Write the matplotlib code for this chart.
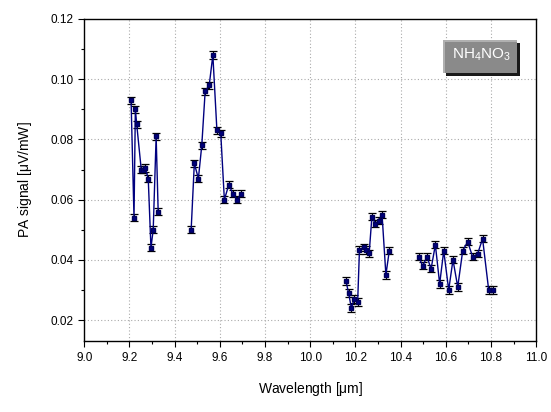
import matplotlib
matplotlib.use("Agg")
import matplotlib.pyplot as plt
from matplotlib.patches import Rectangle
from matplotlib.ticker import MultipleLocator
import numpy as np

plt.rcParams['font.family'] = ['Liberation Sans', 'DejaVu Sans']
plt.rcParams['mathtext.fontset'] = 'custom'
plt.rcParams['mathtext.rm'] = 'Liberation Sans'
plt.rcParams['mathtext.it'] = 'Liberation Sans:italic'

# wavelength [um] and PA signal [uV/mW]
wl1 = [9.207, 9.22, 9.226, 9.232, 9.252, 9.262, 9.27, 9.283, 9.295, 9.305, 9.318, 9.327]
pa1 = [0.093, 0.054, 0.090, 0.085, 0.070, 0.070, 0.0705, 0.067, 0.044, 0.050, 0.081, 0.056]

wl2 = [9.473, 9.487, 9.505, 9.52, 9.535, 9.553, 9.569, 9.587, 9.604, 9.62, 9.64, 9.657, 9.677, 9.694]
pa2 = [0.050, 0.072, 0.067, 0.078, 0.096, 0.098, 0.108, 0.083, 0.082, 0.060, 0.065, 0.062, 0.060, 0.062]

wl3 = [10.158, 10.17, 10.182, 10.195, 10.21, 10.218, 10.236, 10.248, 10.261, 10.273,
       10.288, 10.303, 10.318, 10.335, 10.35]
pa3 = [0.033, 0.029, 0.024, 0.027, 0.026, 0.0433, 0.0442, 0.0433, 0.0422, 0.0543,
       0.052, 0.053, 0.055, 0.035, 0.043]

wl4 = [10.48, 10.498, 10.517, 10.535, 10.554, 10.573, 10.591, 10.613, 10.632, 10.653,
       10.675, 10.697, 10.719, 10.741, 10.763, 10.79, 10.81]
pa4 = [0.041, 0.038, 0.041, 0.037, 0.045, 0.032, 0.043, 0.030, 0.040, 0.031,
       0.043, 0.046, 0.041, 0.042, 0.047, 0.030, 0.030]

err = 0.0012

fig = plt.figure(figsize=(5.51, 4.12), dpi=100)
ax = fig.add_axes([0.153, 0.172, 0.82, 0.782])

for wl, pa in [(wl1, pa1), (wl2, pa2), (wl3, pa3), (wl4, pa4)]:
    ax.errorbar(wl, pa, yerr=err, fmt='s-', color='#00007f', lw=1.0,
                ms=3.3, mfc='#000080', mec='#00005a',
                ecolor='black', elinewidth=0.8, capsize=2.8, capthick=0.9, zorder=3)

ax.set_xlim(9.0, 11.0)
ax.set_ylim(0.013, 0.12)
ax.xaxis.set_major_locator(MultipleLocator(0.2))
ax.xaxis.set_minor_locator(MultipleLocator(0.1))
ax.yaxis.set_major_locator(MultipleLocator(0.02))
ax.yaxis.set_minor_locator(MultipleLocator(0.01))
ax.tick_params(which='both', direction='out', top=False, right=False, labelsize=8.5)
ax.tick_params(which='major', length=4, width=0.8)
ax.tick_params(which='minor', length=2.5, width=0.8)
ax.xaxis.set_major_formatter(matplotlib.ticker.FormatStrFormatter('%.1f'))
ax.yaxis.set_major_formatter(matplotlib.ticker.FormatStrFormatter('%.2f'))

for x in np.arange(9.2, 10.9, 0.2):
    ax.axvline(x, color='#aaaaaa', ls=(0, (1, 2)), lw=0.8, zorder=0)
for y in np.arange(0.02, 0.11, 0.02):
    ax.axhline(y, color='#aaaaaa', ls=(0, (1, 2)), lw=0.8, zorder=0)

for s in ax.spines.values():
    s.set_linewidth(1.0)

ax.set_xlabel(r'Wavelength [$\mathrm{\mu}$m]', fontsize=10, labelpad=12)
ax.set_ylabel(r'PA signal [$\mathrm{\mu}$V/mW]', fontsize=10, labelpad=12)

# label box with bevel
x0, x1, y0, y1 = 0.794, 0.958, 0.832, 0.935
ax.add_patch(Rectangle((x0 + 0.006, y0 - 0.009), x1 - x0, y1 - y0,
                       transform=ax.transAxes, fc='#1a1a1a', ec='none', zorder=5))
ax.add_patch(Rectangle((x0, y0), x1 - x0, y1 - y0,
                       transform=ax.transAxes, fc='#b0b0b0', ec='none', zorder=6))
ax.add_patch(Rectangle((x0 + 0.004, y0), x1 - x0 - 0.004, y1 - y0 - 0.006,
                       transform=ax.transAxes, fc='#8a8a8a', ec='none', zorder=7))
ax.text((x0 + x1) / 2 + 0.002, (y0 + y1) / 2 + 0.005, r'$\mathrm{NH_4NO_3}$',
        transform=ax.transAxes, ha='center', va='center', color='white',
        fontsize=11, zorder=8)

fig.savefig('out.png', dpi=100)
